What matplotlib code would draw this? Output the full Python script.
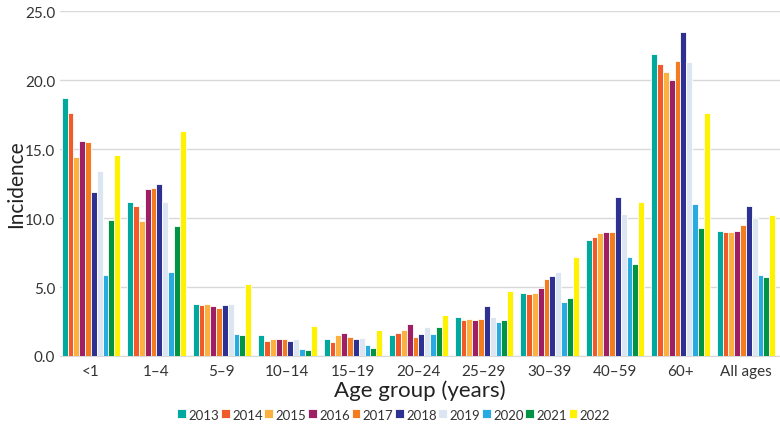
import matplotlib
matplotlib.use('Agg')
import matplotlib.pyplot as plt
import numpy as np

plt.rcParams['font.family'] = ['Lato', 'DejaVu Sans']

groups = ['<1', '1\u20134', '5\u20139', '10\u201314', '15\u201319', '20\u201324',
          '25\u201329', '30\u201339', '40\u201359', '60+', 'All ages']
years = ['2013', '2014', '2015', '2016', '2017', '2018', '2019', '2020', '2021', '2022']
colors = ['#00A99D', '#F15A29', '#FBB040', '#9E1F63', '#F47C20',
          '#2E3192', '#DCE6F2', '#29ABE2', '#009444', '#FFF200']

# rows = age groups, columns = years
values = [
    [18.7, 17.6, 14.4, 15.6, 15.5, 11.9, 13.4, 5.9, 9.9, 14.6],
    [11.2, 10.9, 9.8, 12.1, 12.2, 12.5, 11.2, 6.1, 9.4, 16.3],
    [3.8, 3.7, 3.8, 3.6, 3.5, 3.7, 3.8, 1.6, 1.5, 5.2],
    [1.5, 1.1, 1.2, 1.2, 1.2, 1.1, 1.2, 0.5, 0.4, 2.2],
    [1.2, 1.0, 1.5, 1.7, 1.4, 1.2, 1.3, 0.8, 0.6, 1.9],
    [1.5, 1.7, 1.9, 2.3, 1.4, 1.6, 2.1, 1.6, 2.1, 3.0],
    [2.8, 2.6, 2.7, 2.6, 2.7, 3.6, 2.8, 2.5, 2.6, 4.7],
    [4.6, 4.5, 4.6, 4.9, 5.6, 5.8, 6.1, 3.9, 4.2, 7.2],
    [8.4, 8.6, 8.9, 9.0, 9.0, 11.5, 10.3, 7.2, 6.7, 11.2],
    [21.9, 21.2, 20.6, 20.0, 21.4, 23.5, 21.3, 11.0, 9.3, 17.6],
    [9.1, 9.0, 9.0, 9.1, 9.5, 10.9, 10.0, 5.9, 5.7, 10.2],
]
values = np.array(values)

fig = plt.figure(figsize=(7.8, 4.27), dpi=100)
ax = fig.add_axes([0.077, 0.164, 0.923, 0.807])

x = np.arange(len(groups))
width = 0.089
for i, yr in enumerate(years):
    ax.bar(x + (i - 4.5) * width, values[:, i], width, color=colors[i],
           edgecolor='white', linewidth=0.6, label=yr, zorder=3)

ax.set_xlim(-0.47, 10.52)
ax.set_ylim(0, 25)
ax.set_yticks(np.arange(0, 25.1, 5))
ax.set_yticklabels([f'{v:.1f}' for v in np.arange(0, 25.1, 5)])
ax.set_xticks(x)
ax.set_xticklabels(groups)
ax.tick_params(axis='both', length=0, labelsize=11, colors='#333333')
ax.tick_params(axis='x', pad=6)
ax.grid(axis='y', color='#d9d9d9', linewidth=1, zorder=0)
for s in ['top', 'right', 'left']:
    ax.spines[s].set_visible(False)
ax.spines['bottom'].set_color('#d9d9d9')

ax.set_ylabel('Incidence', fontsize=15, color='#222222')
ax.yaxis.set_label_coords(-0.047, 0.5)
ax.set_xlabel('Age group (years)', fontsize=16, color='#222222', labelpad=1)

fig.legend(loc='lower center', bbox_to_anchor=(0.505, -0.015), ncol=10, frameon=False,
           fontsize=9.5, handlelength=0.65, handleheight=0.65, handletextpad=0.2,
           columnspacing=0.12, labelcolor='#333333')

fig.savefig('out.png', dpi=100)
